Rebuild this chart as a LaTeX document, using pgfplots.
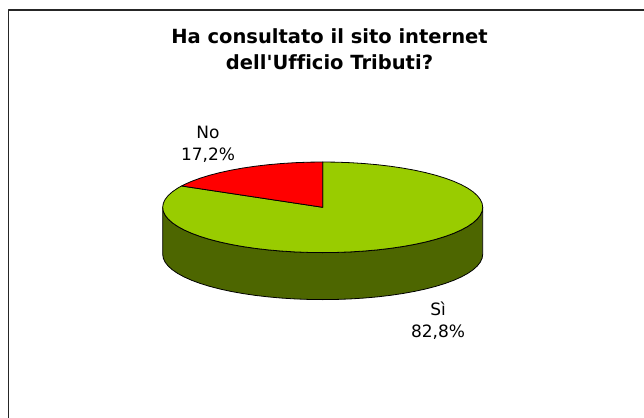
\documentclass[border=0pt]{standalone}
\usepackage{pgfplots}
\pgfplotsset{compat=1.18}
\usepackage{pgfplotstable}
\usepackage{fontspec}
\setmainfont[Ligatures=NoCommon]{DejaVu Sans}
\definecolor{siGreen}{HTML}{99CC00}
\definecolor{siSide}{HTML}{4D6600}

% Top face of the "Sì" slice on the unit circle: 82.8% clockwise from twelve o'clock
\pgfplotstableread{
x y
0 0
0 1
.0872 .9962
.1736 .9848
.2588 .9659
.3420 .9397
.4226 .9063
.5 .8660
.5736 .8192
.6428 .7660
.7071 .7071
.7660 .6428
.8192 .5736
.8660 .5
.9063 .4226
.9397 .3420
.9659 .2588
.9848 .1736
.9962 .0872
1 0
.9962 -.0872
.9848 -.1736
.9659 -.2588
.9397 -.3420
.9063 -.4226
.8660 -.5
.8192 -.5736
.7660 -.6428
.7071 -.7071
.6428 -.7660
.5736 -.8192
.5 -.8660
.4226 -.9063
.3420 -.9397
.2588 -.9659
.1736 -.9848
.0872 -.9962
0 -1
-.0872 -.9962
-.1736 -.9848
-.2588 -.9659
-.3420 -.9397
-.4226 -.9063
-.5 -.8660
-.5736 -.8192
-.6428 -.7660
-.7071 -.7071
-.7660 -.6428
-.8192 -.5736
-.8660 -.5
-.9063 -.4226
-.9397 -.3420
-.9659 -.2588
-.9848 -.1736
-.9962 -.0872
-1 0
-.9962 .0872
-.9848 .1736
-.9659 .2588
-.9397 .3420
-.9063 .4226
-.8823 .4707
}\siTop

% Top face of the "No" slice: the remaining 17.2%
\pgfplotstableread{
x y
0 0
-.8823 .4707
-.8660 .5
-.8192 .5736
-.7660 .6428
-.7071 .7071
-.6428 .7660
-.5736 .8192
-.5 .8660
-.4226 .9063
-.3420 .9397
-.2588 .9659
-.1736 .9848
-.0872 .9962
0 1
}\noTop

% Visible wall of the pie: front half of the rim (d=0) and its lower copy (d=1)
\pgfplotstableread{
x y d
1 0 0
.9962 -.0872 0
.9848 -.1736 0
.9659 -.2588 0
.9397 -.3420 0
.9063 -.4226 0
.8660 -.5 0
.8192 -.5736 0
.7660 -.6428 0
.7071 -.7071 0
.6428 -.7660 0
.5736 -.8192 0
.5 -.8660 0
.4226 -.9063 0
.3420 -.9397 0
.2588 -.9659 0
.1736 -.9848 0
.0872 -.9962 0
0 -1 0
-.0872 -.9962 0
-.1736 -.9848 0
-.2588 -.9659 0
-.3420 -.9397 0
-.4226 -.9063 0
-.5 -.8660 0
-.5736 -.8192 0
-.6428 -.7660 0
-.7071 -.7071 0
-.7660 -.6428 0
-.8192 -.5736 0
-.8660 -.5 0
-.9063 -.4226 0
-.9397 -.3420 0
-.9659 -.2588 0
-.9848 -.1736 0
-.9962 -.0872 0
-1 0 0
-1 0 1
-.9962 -.0872 1
-.9848 -.1736 1
-.9659 -.2588 1
-.9397 -.3420 1
-.9063 -.4226 1
-.8660 -.5 1
-.8192 -.5736 1
-.7660 -.6428 1
-.7071 -.7071 1
-.6428 -.7660 1
-.5736 -.8192 1
-.5 -.8660 1
-.4226 -.9063 1
-.3420 -.9397 1
-.2588 -.9659 1
-.1736 -.9848 1
-.0872 -.9962 1
0 -1 1
.0872 -.9962 1
.1736 -.9848 1
.2588 -.9659 1
.3420 -.9397 1
.4226 -.9063 1
.5 -.8660 1
.5736 -.8192 1
.6428 -.7660 1
.7071 -.7071 1
.7660 -.6428 1
.8192 -.5736 1
.8660 -.5 1
.9063 -.4226 1
.9397 -.3420 1
.9659 -.2588 1
.9848 -.1736 1
.9962 -.0872 1
1 0 1
}\pieWall

\begin{document}
\begin{tikzpicture}[x=1pt,y=1pt]
\path[use as bounding box] (0,0) rectangle (644,417);
\begin{axis}[
  scale only axis, width=644pt, height=417pt,
  xmin=0, xmax=644, ymin=0, ymax=417, y dir=reverse,
  hide axis, clip=true,
  every axis plot/.append style={line width=0.8pt, line join=round},
]
% chart frame
\addplot[draw=black!85, line width=1.6pt] coordinates {(8.3,420) (8.3,10.2) (648,10.2)};
% wall, then the two slices on top
\addplot[fill=siSide, draw=black] table[x expr=322.7+160*\thisrow{x}, y expr=207.3-45.3*\thisrow{y}+47*\thisrow{d}] {\pieWall} -- cycle;
\addplot[fill=siGreen, draw=black] table[x expr=322.7+160*\thisrow{x}, y expr=207.3-45.3*\thisrow{y}] {\siTop} -- cycle;
\addplot[fill=red, draw=black] table[x expr=322.7+160*\thisrow{x}, y expr=207.3-45.3*\thisrow{y}] {\noTop} -- cycle;
% texts
\node[font=\fontsize{19.5}{26}\selectfont\bfseries, align=center, text=black] at (axis cs:329.5,49) {Ha consultato il sito internet\\dell\textquotesingle Ufficio Tributi?};
\node[font=\fontsize{17}{22}\selectfont, align=center, text=black] at (axis cs:208,144) {No\\17,2\%};
\node[font=\fontsize{17}{22}\selectfont, align=center, text=black] at (axis cs:438,321) {Sì\\82,8\%};
\end{axis}
\end{tikzpicture}
\end{document}
